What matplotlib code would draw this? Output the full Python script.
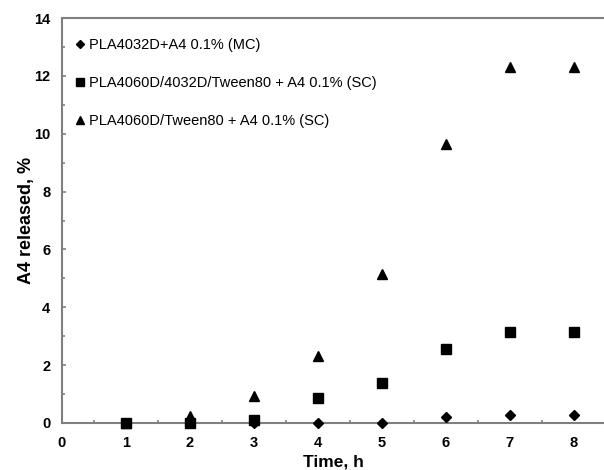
import matplotlib.pyplot as plt
import numpy as np
from matplotlib.ticker import MultipleLocator

plt.rcParams['font.family'] = ['Liberation Sans', 'DejaVu Sans']

time_h = [1, 2, 3, 4, 5, 6, 7, 8]
mc_4032 = [0, 0, 0, 0, 0, 0.2, 0.28, 0.28]
sc_blend = [0, 0, 0.1, 0.85, 1.38, 2.55, 3.15, 3.15]
sc_4060 = [0, 0.25, 0.95, 2.3, 5.15, 9.65, 12.3, 12.3]
labels = ['PLA4032D+A4 0.1% (MC)',
          'PLA4060D/4032D/Tween80 + A4 0.1% (SC)',
          'PLA4060D/Tween80 + A4 0.1% (SC)']

fig = plt.figure(figsize=(6.04, 4.70), dpi=100)
ax = fig.add_axes([0.1026, 0.10, 0.8974, 0.8617])

ax.plot(time_h, mc_4032, 'D', color='k', ms=5, ls='none', label=labels[0],
        clip_on=False, zorder=5)
ax.plot(time_h, sc_blend, 's', color='k', ms=7, ls='none', label=labels[1],
        clip_on=False, zorder=4)
ax.plot(time_h, sc_4060, '^', color='k', ms=7.5, ls='none', label=labels[2],
        clip_on=False, zorder=3)

ax.set_xlim(0, 8.47)
ax.set_ylim(0, 14)
ax.xaxis.set_major_locator(MultipleLocator(1))
ax.xaxis.set_minor_locator(MultipleLocator(0.5))
ax.yaxis.set_major_locator(MultipleLocator(2))
ax.yaxis.set_minor_locator(MultipleLocator(1))

for s in ['left', 'bottom', 'top']:
    ax.spines[s].set_color('#7f7f7f')
    ax.spines[s].set_linewidth(1.5)
ax.spines['right'].set_visible(False)
ax.tick_params(which='both', color='#7f7f7f', width=1.2, direction='in')
ax.tick_params(which='major', length=3)
ax.tick_params(which='minor', length=2)
ax.tick_params(axis='x', which='major', length=0)
ax.tick_params(labelsize=10.5)
ax.tick_params(axis='x', pad=9.5)
ax.tick_params(axis='y', pad=8.5)
for t in ax.get_xticklabels() + ax.get_yticklabels():
    t.set_fontweight('bold')

ax.set_xlabel('Time, h', fontsize=12.5, fontweight='bold', labelpad=3)
ax.set_ylabel('A4 released, %', fontsize=13, fontweight='bold', labelpad=-1)

leg = ax.legend(loc='upper left', bbox_to_anchor=(0.0, 0.975), frameon=False,
                fontsize=10.5, labelspacing=1.65, handletextpad=0.05,
                handlelength=1.1, markerscale=0.75, borderaxespad=0.3)

fig.savefig('out.png', dpi=100)
